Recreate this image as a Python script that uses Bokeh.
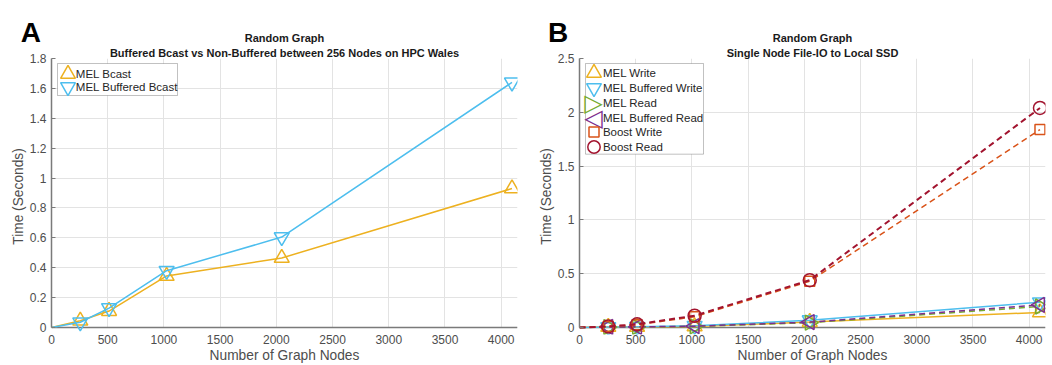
import math
from bokeh.plotting import figure
from bokeh.layouts import row
from bokeh.models import (Label, Legend, LegendItem, FixedTicker, NumeralTickFormatter,
                          Range1d, Span, BoxAnnotation)
from bokeh.embed import file_html
from bokeh.resources import INLINE

# ---------------- data ----------------
nodes = [0, 256, 512, 1024, 2048, 4096]
x_ticks = [0, 500, 1000, 1500, 2000, 2500, 3000, 3500, 4000]
x_max = 4145

a_y_ticks = [0, 0.2, 0.4, 0.6, 0.8, 1.0, 1.2, 1.4, 1.6, 1.8]
a_mel_bcast = [0, 0.045, 0.11, 0.345, 0.465, 0.93]
a_mel_buffered_bcast = [0, 0.035, 0.13, 0.38, 0.605, 1.64]

b_y_ticks = [0, 0.5, 1.0, 1.5, 2.0, 2.5]
b_mel_write = [0, 0.005, 0.005, 0.01, 0.05, 0.14]
b_mel_buffered_write = [0, 0.005, 0.007, 0.016, 0.068, 0.235]
b_mel_read = [0, 0.004, 0.005, 0.01, 0.045, 0.195]
b_mel_buffered_read = [0, 0.005, 0.006, 0.012, 0.05, 0.21]
b_boost_write = [0, 0.01, 0.025, 0.10, 0.43, 1.84]
b_boost_read = [0, 0.01, 0.03, 0.11, 0.44, 2.04]

# ---------------- styles ----------------
FONT = "Liberation Sans"
AX = "#7a7a7a"
TXT = "#4d4d4d"
GRID = "#e3e3e3"
YELLOW = "#EDB120"
BLUE = "#4DBEEE"
GREEN = "#77AC30"
PURPLE = "#7E2F8E"
ORANGE = "#D95319"
DARKRED = "#A2142F"

H = 365
TOP = 58
BOTTOM = 31
DELTA = 7  # px of frame below y=0 so markers near zero are not clipped


def make_fig(width, left, right, y_max, y_ticks, letter, letter_x, title1, title2):
    fw = width - left - right
    fh = H - TOP - BOTTOM
    y_start = -y_max * DELTA / (fh - DELTA)
    p = figure(width=width, height=H, x_range=Range1d(0, x_max),
               y_range=Range1d(y_start, y_max), output_backend="svg",
               toolbar_location=None, min_border_left=left, min_border_right=right,
               min_border_top=TOP, min_border_bottom=BOTTOM)
    p.outline_line_color = None
    p.background_fill_color = "white"
    p.border_fill_color = "white"

    p.xgrid.grid_line_color = GRID
    p.ygrid.grid_line_color = GRID

    p.xaxis.ticker = FixedTicker(ticks=x_ticks)
    p.yaxis.ticker = FixedTicker(ticks=y_ticks)
    p.yaxis.formatter = NumeralTickFormatter(format="0.[0]")
    p.yaxis.bounds = (0, y_max)

    for ax in (p.xaxis[0], p.yaxis[0]):
        ax.major_label_text_font = FONT
        ax.major_label_text_font_size = "12px"
        ax.major_label_text_color = TXT
        ax.minor_tick_line_color = None
        ax.major_tick_in = 4
        ax.major_tick_out = 0
        ax.major_tick_line_color = AX
        ax.major_tick_line_width = 1
        ax.axis_line_color = AX
        ax.axis_line_width = 1.5
        ax.axis_label_text_font = FONT
        ax.axis_label_text_font_size = "13.75px"
        ax.axis_label_text_font_style = "normal"
        ax.axis_label_text_color = TXT

    p.xaxis.axis_line_color = None
    p.xaxis.major_tick_line_color = None
    p.xaxis.major_label_standoff = 0
    p.xaxis.axis_label = "Number of Graph Nodes"
    p.xaxis.axis_label_standoff = 1
    p.yaxis.major_label_standoff = 5
    p.yaxis.axis_label = "Time (Seconds)"
    p.yaxis.axis_label_standoff = 1

    # white strip below y=0, then the x axis line at y=0
    p.add_layout(BoxAnnotation(top=0, fill_color="white", fill_alpha=1.0,
                               line_color=None, level="underlay"))
    p.add_layout(Span(location=0, dimension="width", line_color=AX,
                      line_width=1.5, level="underlay"))

    # titles and panel letter above the frame, anchored to the top of the y range
    p.add_layout(Label(x=fw / 2, x_units="screen", y=y_max, y_units="data", y_offset=20.3,
                       text=title1, text_font=FONT, text_font_size="11px",
                       text_font_style="bold", text_color="#1a1a1a",
                       text_align="center", text_baseline="alphabetic"), "above")
    p.add_layout(Label(x=fw / 2, x_units="screen", y=y_max, y_units="data", y_offset=5.7,
                       text=title2, text_font=FONT, text_font_size="11px",
                       text_font_style="bold", text_color="#1a1a1a",
                       text_align="center", text_baseline="alphabetic"), "above")
    p.add_layout(Label(x=letter_x, x_units="screen", y=y_max, y_units="data", y_offset=25.7,
                       text=letter, text_font=FONT, text_font_size="28px",
                       text_font_style="bold", text_color="black",
                       text_align="left", text_baseline="alphabetic"), "above")
    return p, fw, fh


def add_series(p, ys, color, marker, size, angle=0.0, dash="solid", lw=1.5):
    p.line(nodes, ys, line_color=color, line_width=lw, line_dash=dash)
    return p.scatter(nodes[1:], ys[1:], marker=marker, size=size, angle=angle,
                     fill_color=None, line_color=color, line_width=1.5)


def add_legend(p, fh, box, entries, mx, lx):
    left, right, top_off, bot_off = box
    p.add_layout(BoxAnnotation(left=left, right=right, top=fh - top_off, bottom=fh - bot_off,
                               left_units="screen", right_units="screen",
                               top_units="screen", bottom_units="screen",
                               fill_color="white", fill_alpha=1.0,
                               line_color="#333333", line_width=1))
    for text, r, g, off, sym, col in entries:
        cy = fh - off
        if sym is None:
            p.add_layout(Legend(items=[LegendItem(label=" ", renderers=[r])],
                                location=(mx - g / 2, cy - g / 2), margin=0, padding=0,
                                spacing=0, glyph_width=g, glyph_height=g, label_standoff=0,
                                label_width=0, label_height=0, label_text_font_size="1px",
                                background_fill_alpha=0.0, border_line_color=None))
        else:
            p.add_layout(Label(x=mx, y=cy, x_units="screen", y_units="screen", text=sym,
                               text_font="DejaVu Sans", text_font_size="24px",
                               text_color=col, text_align="center",
                               text_baseline="middle"))
        p.add_layout(Label(x=lx, y=cy, x_units="screen", y_units="screen", text=text,
                           text_font=FONT, text_font_size="11.5px", text_color="#262626",
                           text_align="left", text_baseline="middle"))


# ---------------- panel A ----------------
pa, fwa, fha = make_fig(530, 51, 13, 1.8, a_y_ticks, "A", -30.7, "Random Graph",
                        "Buffered Bcast vs Non-Buffered between 256 Nodes on HPC Wales")
ra1 = add_series(pa, a_mel_bcast, YELLOW, "triangle", 15)
ra2 = add_series(pa, a_mel_buffered_bcast, BLUE, "inverted_triangle", 15)
add_legend(pa, fha, (6, 126, 5, 37),
           [("MEL Bcast", ra1, 37, 15, None, None),
            ("MEL Buffered Bcast", ra2, 37, 28.7, None, None)], 16, 24.3)

# ---------------- panel B ----------------
pb, fwb, fhb = make_fig(522, 49, 7, 2.5, b_y_ticks, "B", -31.6, "Random Graph",
                        "Single Node File-IO to Local SSD")
rb1 = add_series(pb, b_mel_write, YELLOW, "triangle", 15)
rb2 = add_series(pb, b_mel_buffered_write, BLUE, "inverted_triangle", 15)
rb3 = add_series(pb, b_mel_read, GREEN, "triangle", 15, angle=-math.pi / 2, dash="6 4")
rb4 = add_series(pb, b_mel_buffered_read, PURPLE, "triangle", 15, angle=math.pi / 2, dash="6 4")
rb5 = add_series(pb, b_boost_write, ORANGE, "square", 10, dash="6 4")
rb6 = add_series(pb, b_boost_read, DARKRED, "circle", 13, dash="6 4", lw=2)
add_legend(pb, fhb, (6, 124, 5, 95.7),
           [("MEL Write", rb1, 37, 14.4, None, None),
            ("MEL Buffered Write", rb2, 37, 29.3, None, None),
            ("MEL Read", rb3, 37, 44.1, "\u25b7", GREEN),
            ("MEL Buffered Read", rb4, 37, 59, "\u25c1", PURPLE),
            ("Boost Write", rb5, 25, 73.9, None, None),
            ("Boost Read", rb6, 31, 88.7, None, None)], 14, 23.4)

layout = row(pa, pb)
open("out.html", "w").write(file_html(layout, INLINE))
